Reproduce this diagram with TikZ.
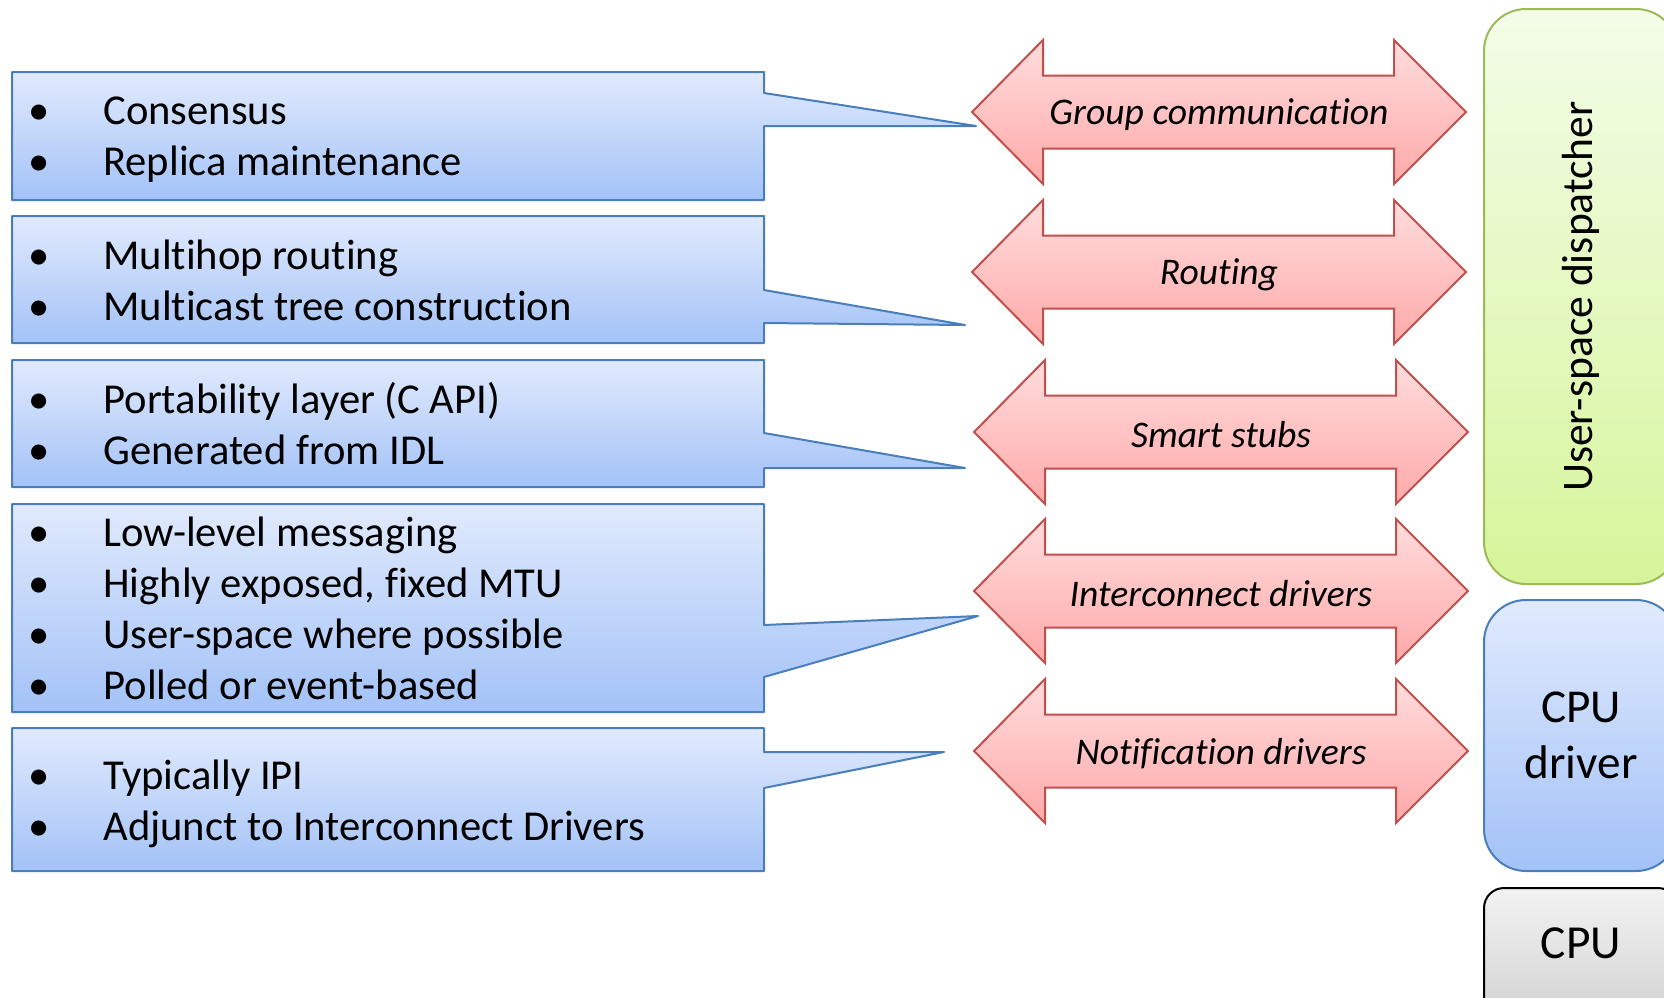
\documentclass[tikz,border=0pt]{standalone}
\usepackage{fontspec}
\setmainfont{Carlito}[Ligatures=NoCommon]

\definecolor{boxline}{HTML}{4A7EBB}
\definecolor{boxtop}{HTML}{E1EAFD}
\definecolor{boxbot}{HTML}{A3C2F7}
\definecolor{arrline}{HTML}{C0504D}
\definecolor{arrtop}{HTML}{FFDCDC}
\definecolor{arrbot}{HTML}{FFA9A9}
\definecolor{dspline}{HTML}{9BBB59}
\definecolor{dsptop}{HTML}{F3FCE8}
\definecolor{dspbot}{HTML}{D6F59A}
\definecolor{cputop}{HTML}{F2F2F2}
\definecolor{cpubot}{HTML}{CBCBCB}

\newcommand{\bitem}[1]{\makebox[37.5pt][l]{\textbullet}#1}

\begin{document}
\begin{tikzpicture}[x=0.5pt, y=-0.5pt,
    callout/.style={draw=boxline, line width=1pt, line join=round, top color=boxtop, bottom color=boxbot},
    bullets/.style={anchor=west, inner sep=0pt, align=left, font=\fontsize{21.3}{25.5}\selectfont},
    layer/.style={draw=arrline, line width=1pt, top color=arrtop, bottom color=arrbot},
    layerlbl/.style={inner sep=0pt, font=\fontsize{18.8}{22}\selectfont\itshape},
    dispatch/.style={rectangle, rounded corners=21pt, draw=dspline, line width=1pt, top color=dsptop, bottom color=dspbot, minimum width=97pt, minimum height=287.5pt},
    cpudrv/.style={rectangle, rounded corners=21pt, draw=boxline, line width=1pt, top color=boxtop, bottom color=boxbot, minimum width=97pt, minimum height=135.5pt, align=center, font=\fontsize{23.6}{28}\selectfont},
    cpu/.style={rectangle, rounded corners=10pt, draw=black, line width=1pt, top color=cputop, bottom color=cpubot, minimum width=97pt, minimum height=81pt},
]
\useasboundingbox (0,0) rectangle (1664,997);

% Callouts on the left
\draw[callout] (12,72) -- (764,72) -- (764,93) -- (976,126) -- (764,126) -- (764,200) -- (12,200) -- cycle;
\draw[callout] (12,216) -- (764,216) -- (764,290) -- (965,325) -- (764,323) -- (764,343) -- (12,343) -- cycle;
\draw[callout] (12,360) -- (764,360) -- (764,433) -- (965,468) -- (764,468) -- (764,487) -- (12,487) -- cycle;
\draw[callout] (12,504) -- (764,504) -- (764,625) -- (978,616) -- (764,677) -- (764,712) -- (12,712) -- cycle;
\draw[callout] (12,728) -- (764,728) -- (764,752) -- (944,752) -- (764,788) -- (764,871) -- (12,871) -- cycle;

\node[bullets] (grpnotes) at (28,140) {\bitem{Consensus}\\\bitem{Replica maintenance}};
\node[bullets] (routenotes) at (28,280) {\bitem{Multihop routing}\\\bitem{Multicast tree construction}};
\node[bullets] (stubnotes) at (28,424) {\bitem{Portability layer (C API)}\\\bitem{Generated from IDL}};
\node[bullets] (icnotes) at (28,608) {\bitem{Low-level messaging}\\\bitem{Highly exposed, fixed MTU}\\\bitem{User-space where possible}\\\bitem{Polled or event-based}};
\node[bullets] (notifnotes) at (28,804) {\bitem{Typically IPI}\\\bitem{Adjunct to Interconnect Drivers}};

% Layers (double arrows)
\foreach \nm/\cx/\cy/\txt in {grpcomm/1219/112/Group communication, routing/1219/272/Routing,
    stubs/1221/432/Smart stubs, icdrv/1221/591/Interconnect drivers, notifdrv/1221/751/Notification drivers} {
  \begin{scope}[shift={(\cx,\cy)}]
    \draw[layer] (-247,0) -- (-176,-72) -- (-176,-36.5) -- (175,-36.5) -- (175,-72) -- (247,0)
      -- (175,72) -- (175,36.5) -- (-176,36.5) -- (-176,72) -- cycle;
    \node[layerlbl] (\nm) at (0,3) {\txt};
  \end{scope}
}

% Right column
\node[dispatch] (dispatch) at (1581,296.5) {};
\node[rotate=90, font=\fontsize{21.8}{26}\selectfont] (dispatchlbl) at (dispatch.center) {User-space dispatcher};
\node[cpudrv] (cpudriver) at (1581,735.5) {CPU\\driver};
\node[cpu] (cpu) at (1581,969) {};
\node[font=\fontsize{23.7}{28}\selectfont] (cpulbl) at (1581,943) {CPU};

\end{tikzpicture}
\end{document}
